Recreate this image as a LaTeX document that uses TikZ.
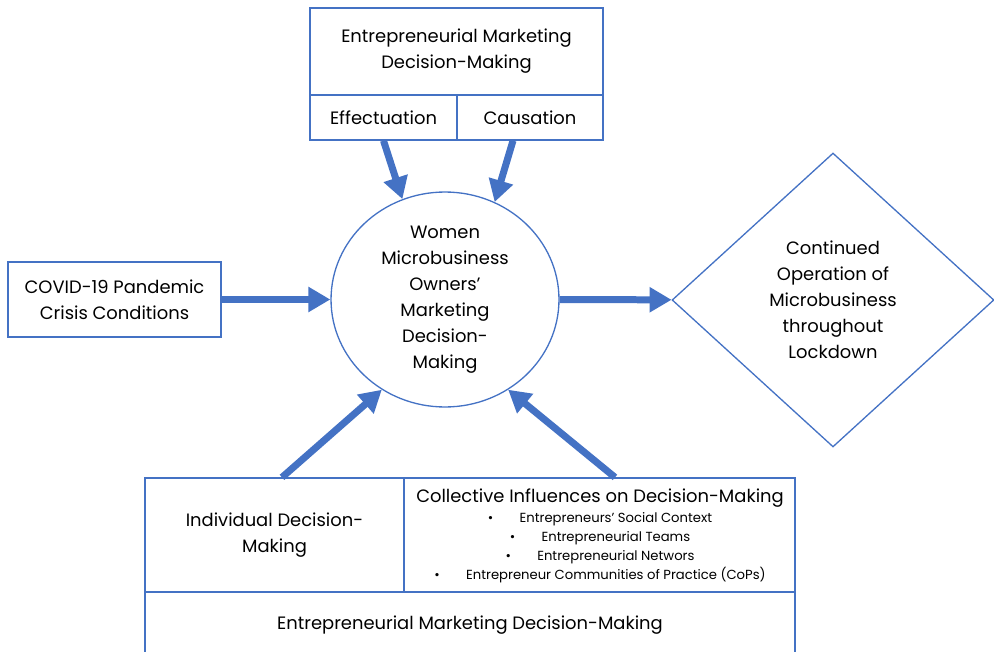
\documentclass[tikz,border=0pt]{standalone}
\usepackage{fontspec}
\setmainfont{Poppins}
\usetikzlibrary{arrows.meta,shapes.geometric}
\definecolor{frameblue}{HTML}{4472C4}
\newcommand\mainsize{\fontsize{10.2}{14.8}\selectfont}
\newcommand\itemsize{\fontsize{7.5}{10.8}\selectfont}
\tikzset{
  cell/.style={draw=frameblue,line width=0.75pt,inner sep=0pt,align=center,font=\mainsize},
  flow/.style={frameblue,line width=0.14cm,-{Triangle[length=0.44cm,width=0.48cm]}}
}

\begin{document}
\begin{tikzpicture}[x=0.02cm,y=-0.02cm] % pixel grid, y downwards
\useasboundingbox (0,0) rectangle (994,652);

% decision-making logic on top
\node[cell,minimum width=5.86cm,minimum height=1.74cm] (emdm) at (456.5,51.5)
  {Entrepreneurial Marketing\\Decision-Making};
\node[cell,minimum width=2.94cm,minimum height=0.9cm] (effect) at (383.5,117.5) {Effectuation};
\node[cell,minimum width=2.92cm,minimum height=0.9cm] (cause) at (530,117.5) {Causation};

% context, owners and outcome
\node[cell,minimum width=4.26cm,minimum height=1.5cm] (covid) at (114.5,299.5)
  {COVID-19 Pandemic\\Crisis Conditions};
\node[cell,ellipse,minimum width=4.56cm,minimum height=4.3cm] (owners) at (445,299.5)
  {Women\\Microbusiness\\Owners'\\Marketing\\Decision-\\Making};
\node[cell,diamond,minimum width=6.44cm,minimum height=5.88cm] (outcome) at (833,300)
  {Continued\\Operation of\\Microbusiness\\throughout\\Lockdown};

% individual vs collective decision-making
\node[cell,minimum width=5.18cm,minimum height=2.28cm] (indiv) at (274.5,535)
  {Individual Decision-\\Making};
\node[cell,minimum width=7.82cm,minimum height=2.28cm] (coll) at (599.5,535) {};
\node[font=\mainsize,inner sep=0pt] (collhead) at (600,498)
  {Collective Influences on Decision-Making};
\node[font=\itemsize,align=center,inner sep=0pt] (collitems) at (600,547.5)
  {\textbullet\hspace{2em}Entrepreneurs' Social Context\\
   \textbullet\hspace{2em}Entrepreneurial Teams\\
   \textbullet\hspace{2em}Entrepreneurial Networs\\
   \textbullet\hspace{2em}Entrepreneur Communities of Practice (CoPs)};
\node[cell,minimum width=13cm,minimum height=1.32cm] (emdmbase) at (470,625)
  {Entrepreneurial Marketing Decision-Making};

% influences
\draw[flow] (effect.south) -- (owners.113);
\draw[flow] ([xshift=-0.34cm]cause.south) -- (owners.63);
\draw[flow] (covid) -- (owners);
\draw[flow] (owners) -- (outcome);
\draw[flow] ([xshift=0.15cm]indiv.north) -- (owners.235);
\draw[flow] ([xshift=0.31cm]coll.north) -- (owners.305);
\end{tikzpicture}
\end{document}
